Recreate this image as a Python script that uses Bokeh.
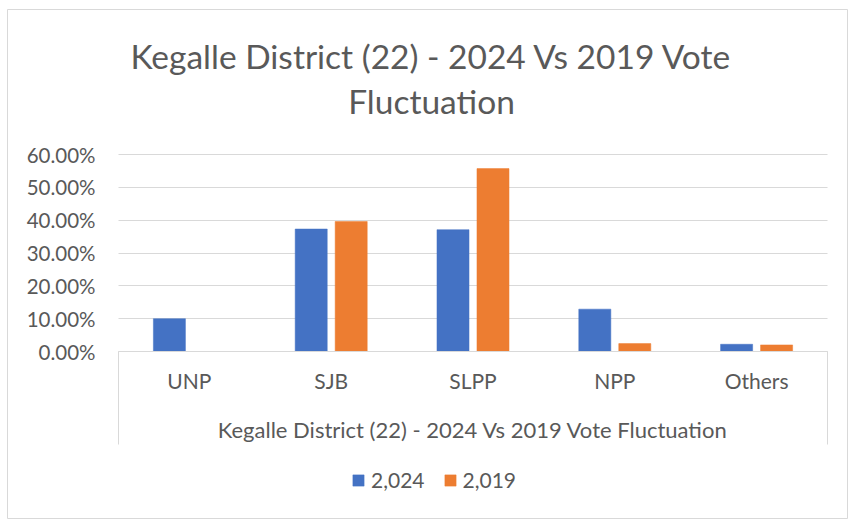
from bokeh.plotting import figure
from bokeh.models import (ColumnDataSource, Range1d, FixedTicker, NumeralTickFormatter,
                          Legend, LegendItem, Label)
from bokeh.embed import file_html
from bokeh.resources import INLINE

# ---- data ----
parties = ["UNP", "SJB", "SLPP", "NPP", "Others"]
v2024 = [0.100, 0.373, 0.371, 0.129, 0.022]
v2019 = [0.000, 0.396, 0.557, 0.024, 0.020]
series_names = ["2,024", "2,019"]
title_lines = ["Kegalle District (22) - 2024 Vs 2019 Vote", "Fluctuation"]
axis_title = "Kegalle District (22) - 2024 Vs 2019 Vote Fluctuation"
y_ticks = [0.0, 0.1, 0.2, 0.3, 0.4, 0.5, 0.6]

BLUE = "#4472C4"
ORANGE = "#ED7D31"
TXT = "#595959"
GRID = "#d9d9d9"
FONT = "Lato"

W, H = 848, 519
# chart-area box (canvas px) and plot-area box (canvas px)
CA_L, CA_T, CA_B = 7, 9, 518
PA_L, PA_R, PA_T, PA_B = 118, 827, 154, 351

n = len(parties)
ymax = y_ticks[-1]
kx = (PA_R - PA_L) / n
ky = (PA_B - PA_T) / ymax
x_start = -(PA_L - CA_L) / kx
x_end = n + (W - PA_R) / kx
y_end = ymax + (PA_T - CA_T) / ky
y_start = -(CA_B - PA_B) / ky

centers = [i + 0.5 for i in range(n)]
offset = 0.141
bar_w = 0.226

src = ColumnDataSource(dict(
    x24=[c - offset for c in centers],
    x19=[c + offset for c in centers],
    v24=v2024,
    v19=v2019,
))

p = figure(width=W, height=H, output_backend="svg", toolbar_location=None,
           title=None,
           x_range=Range1d(x_start, x_end), y_range=Range1d(y_start, y_end),
           min_border_left=CA_L, min_border_right=0,
           min_border_top=CA_T, min_border_bottom=H - CA_B)
p.outline_line_color = GRID
p.outline_line_width = 1
p.background_fill_color = "white"
p.border_fill_color = "white"

r24 = p.vbar(x="x24", top="v24", width=bar_w, bottom=0, source=src,
             fill_color=BLUE, line_color=BLUE, line_width=0.5)
r19 = p.vbar(x="x19", top="v19", width=bar_w, bottom=0, source=src,
             fill_color=ORANGE, line_color=ORANGE, line_width=0.5)

# y axis
p.yaxis.fixed_location = 0
p.yaxis.ticker = FixedTicker(ticks=y_ticks)
p.yaxis.formatter = NumeralTickFormatter(format="0.00%")
p.yaxis.axis_line_color = None
p.yaxis.major_tick_line_color = None
p.yaxis.minor_tick_line_color = None
p.yaxis.major_tick_out = 0
p.yaxis.major_tick_in = 0
p.yaxis.major_label_standoff = 23
p.yaxis.major_label_text_font = FONT
p.yaxis.major_label_text_font_size = "20.5px"
p.yaxis.major_label_text_color = TXT

p.ygrid.ticker = FixedTicker(ticks=y_ticks)
p.ygrid.cross_bounds = (0, n)
p.ygrid.grid_line_color = GRID
p.ygrid.grid_line_width = 1
p.xgrid.grid_line_color = None

# x axis (categories, with box edges as minor ticks)
p.xaxis.fixed_location = 0
p.xaxis.bounds = (0, n)
p.xaxis.ticker = FixedTicker(ticks=centers, minor_ticks=[0, n])
p.xaxis.major_label_overrides = {c: name for c, name in zip(centers, parties)}
p.xaxis.axis_line_color = GRID
p.xaxis.axis_line_width = 1
p.xaxis.major_tick_line_color = None
p.xaxis.major_tick_out = 0
p.xaxis.major_tick_in = 0
p.xaxis.minor_tick_line_color = GRID
p.xaxis.minor_tick_out = 93
p.xaxis.minor_tick_in = 0
p.xaxis.major_label_standoff = -77
p.xaxis.major_label_text_font = FONT
p.xaxis.major_label_text_font_size = "21px"
p.xaxis.major_label_text_color = TXT
p.xaxis.axis_label = axis_title
p.xaxis.axis_label_standoff = 20
p.xaxis.axis_label_text_font = FONT
p.xaxis.axis_label_text_font_size = "22px"
p.xaxis.axis_label_text_font_style = "normal"
p.xaxis.axis_label_text_color = TXT

# title: two lines centred on the chart area
title_cx = (431 - PA_L) / kx
for line, base_px in zip(title_lines, [55, 100]):
    p.add_layout(Label(x=title_cx, y=ymax + (PA_T - base_px) / ky, text=line,
                       text_align="center", text_baseline="alphabetic",
                       text_font=FONT, text_font_size="33.5px", text_color=TXT))

legend = Legend(items=[LegendItem(label=series_names[0], renderers=[r24]),
                       LegendItem(label=series_names[1], renderers=[r19])],
                location=(351 - CA_L, CA_B - 492), orientation="horizontal")
legend.glyph_width = 14
legend.glyph_height = 14
legend.label_standoff = 6
legend.spacing = 18
legend.padding = 0
legend.margin = 0
legend.border_line_color = None
legend.background_fill_alpha = 0
legend.label_text_font = FONT
legend.label_text_font_size = "21px"
legend.label_text_color = TXT
p.add_layout(legend, "center")

open("out.html", "w").write(file_html(p, INLINE))
